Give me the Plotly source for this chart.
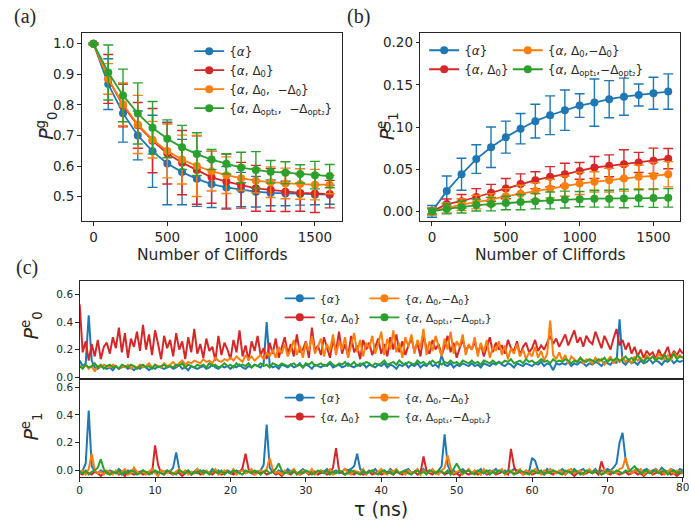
import plotly.graph_objects as go

W, H = 689, 529

# ---------------- data ----------------
cliffords = [0, 100, 200, 300, 400, 500, 600, 700, 800, 900, 1000, 1100, 1200, 1300, 1400, 1500, 1600]

# panel (a): P0^g
a_alpha = [1.0, 0.868, 0.773, 0.700, 0.648, 0.608, 0.580, 0.558, 0.541, 0.530, 0.523, 0.516, 0.512, 0.510, 0.508, 0.506, 0.506]
a_alpha_err = [0.003, 0.083, 0.095, 0.08, 0.118, 0.135, 0.107, 0.09, 0.077, 0.068, 0.056, 0.05, 0.042, 0.04, 0.036, 0.033, 0.031]
a_d0 = [1.0, 0.885, 0.798, 0.733, 0.683, 0.641, 0.611, 0.587, 0.563, 0.549, 0.537, 0.527, 0.522, 0.516, 0.512, 0.510, 0.508]
a_d0_err = [0.003, 0.08, 0.07, 0.075, 0.105, 0.1, 0.105, 0.112, 0.085, 0.09, 0.075, 0.075, 0.07, 0.065, 0.06, 0.062, 0.045]
a_d0m = [1.0, 0.885, 0.802, 0.736, 0.686, 0.649, 0.621, 0.600, 0.583, 0.570, 0.560, 0.552, 0.547, 0.543, 0.541, 0.539, 0.539]
a_d0m_err = [0.003, 0.05, 0.07, 0.095, 0.06, 0.088, 0.08, 0.1, 0.065, 0.06, 0.04, 0.04, 0.05, 0.05, 0.05, 0.05, 0.03]
a_opt = [1.0, 0.906, 0.831, 0.772, 0.725, 0.689, 0.661, 0.639, 0.621, 0.607, 0.595, 0.587, 0.581, 0.578, 0.574, 0.570, 0.567]
a_opt_err = [0.003, 0.09, 0.086, 0.1, 0.086, 0.062, 0.072, 0.07, 0.033, 0.033, 0.05, 0.06, 0.037, 0.036, 0.03, 0.045, 0.038]

# panel (b): P1^e
b_alpha = [0.0, 0.024, 0.044, 0.062, 0.076, 0.088, 0.098, 0.107, 0.114, 0.120, 0.1255, 0.129, 0.133, 0.136, 0.138, 0.140, 0.142]
b_alpha_err = [0.007, 0.018, 0.019, 0.017, 0.024, 0.019, 0.018, 0.02, 0.023, 0.024, 0.014, 0.028, 0.022, 0.022, 0.013, 0.019, 0.021]
b_d0 = [0.0, 0.0086, 0.012, 0.017, 0.022, 0.027, 0.0325, 0.037, 0.041, 0.044, 0.048, 0.052, 0.054, 0.056, 0.058, 0.060, 0.0625]
b_d0_err = [0.004, 0.006, 0.008, 0.01, 0.01, 0.012, 0.012, 0.01, 0.012, 0.013, 0.01, 0.013, 0.013, 0.017, 0.012, 0.015, 0.012]
b_d0m = [0.0, 0.004, 0.008, 0.011, 0.014, 0.018, 0.021, 0.024, 0.027, 0.030, 0.033, 0.035, 0.037, 0.039, 0.041, 0.042, 0.044]
b_d0m_err = [0.004, 0.006, 0.007, 0.008, 0.007, 0.009, 0.01, 0.01, 0.011, 0.012, 0.013, 0.012, 0.014, 0.015, 0.014, 0.016, 0.015]
b_opt = [0.0, 0.003, 0.005, 0.0075, 0.0086, 0.010, 0.011, 0.012, 0.013, 0.014, 0.0145, 0.015, 0.015, 0.0153, 0.0157, 0.0157, 0.016]
b_opt_err = [0.003, 0.006, 0.007, 0.007, 0.008, 0.008, 0.009, 0.009, 0.01, 0.01, 0.009, 0.01, 0.01, 0.011, 0.01, 0.011, 0.011]

# panel (c): time traces sampled every 0.4 ns from 0 to 80 ns
tau = [round(0.4 * i, 1) for i in range(201)]
tau_ticks = [0, 10, 20, 30, 40, 50, 60, 70, 80]

c0_alpha = [
    0.12, 0.08, 0.10, 0.45, 0.12, 0.07, 0.06, 0.08, 0.07, 0.06,
    0.07, 0.05, 0.08, 0.06, 0.07, 0.08, 0.06, 0.07, 0.05, 0.07,
    0.06, 0.08, 0.07, 0.05, 0.07, 0.06, 0.08, 0.07, 0.06, 0.07,
    0.08, 0.06, 0.07, 0.09, 0.06, 0.07, 0.05, 0.08, 0.07, 0.06,
    0.07, 0.08, 0.06, 0.07, 0.09, 0.07, 0.06, 0.08, 0.07, 0.08,
    0.06, 0.08, 0.07, 0.09, 0.07, 0.06, 0.08, 0.07, 0.09, 0.08,
    0.07, 0.10, 0.40, 0.09, 0.07, 0.08, 0.06, 0.09, 0.08, 0.07,
    0.09, 0.07, 0.08, 0.10, 0.07, 0.09, 0.08, 0.06, 0.09, 0.08,
    0.07, 0.09, 0.08, 0.10, 0.07, 0.08, 0.09, 0.07, 0.08, 0.10,
    0.08, 0.07, 0.09, 0.08, 0.10, 0.07, 0.09, 0.08, 0.07, 0.09,
    0.08, 0.10, 0.07, 0.09, 0.08, 0.06, 0.09, 0.08, 0.10, 0.07,
    0.09, 0.08, 0.10, 0.07, 0.09, 0.08, 0.11, 0.08, 0.09, 0.07,
    0.16, 0.09, 0.08, 0.10, 0.07, 0.09, 0.08, 0.10, 0.09, 0.08,
    0.10, 0.08, 0.09, 0.07, 0.10, 0.09, 0.08, 0.10, 0.09, 0.11,
    0.09, 0.08, 0.10, 0.09, 0.07, 0.10, 0.09, 0.08, 0.10, 0.09,
    0.08, 0.10, 0.09, 0.11, 0.08, 0.10, 0.09, 0.05, 0.10, 0.09,
    0.10, 0.09, 0.11, 0.08, 0.10, 0.09, 0.11, 0.10, 0.08, 0.10,
    0.09, 0.11, 0.10, 0.08, 0.11, 0.10, 0.09, 0.12, 0.10, 0.42,
    0.11, 0.09, 0.12, 0.10, 0.11, 0.09, 0.12, 0.10, 0.11, 0.13,
    0.10, 0.12, 0.11, 0.09, 0.12, 0.11, 0.13, 0.10, 0.12, 0.11,
    0.12]
c0_d0 = [
    0.53, 0.18, 0.26, 0.12, 0.24, 0.15, 0.27, 0.13, 0.22, 0.25,
    0.17, 0.29, 0.21, 0.36, 0.18, 0.32, 0.14, 0.28, 0.22, 0.33,
    0.19, 0.38, 0.20, 0.31, 0.16, 0.34, 0.24, 0.13, 0.30, 0.21,
    0.27, 0.15, 0.32, 0.20, 0.26, 0.13, 0.29, 0.18, 0.35, 0.17,
    0.24, 0.14, 0.28, 0.19, 0.22, 0.12, 0.30, 0.16, 0.25, 0.20,
    0.13, 0.27, 0.18, 0.34, 0.15, 0.23, 0.12, 0.26, 0.19, 0.30,
    0.16, 0.21, 0.13, 0.25, 0.17, 0.28, 0.14, 0.22, 0.29, 0.17,
    0.24, 0.15, 0.31, 0.18, 0.20, 0.26, 0.14, 0.36, 0.19, 0.23,
    0.16, 0.29, 0.21, 0.14, 0.27, 0.19, 0.33, 0.17, 0.24, 0.15,
    0.30, 0.18, 0.23, 0.13, 0.27, 0.20, 0.25, 0.16, 0.22, 0.28,
    0.17, 0.24, 0.15, 0.29, 0.20, 0.31, 0.18, 0.26, 0.16, 0.23,
    0.28, 0.19, 0.25, 0.15, 0.30, 0.21, 0.17, 0.27, 0.20, 0.24,
    0.16, 0.22, 0.30, 0.18, 0.25, 0.14, 0.21, 0.27, 0.19, 0.23,
    0.20, 0.26, 0.17, 0.24, 0.15, 0.22, 0.29, 0.18, 0.25, 0.20,
    0.23, 0.17, 0.27, 0.21, 0.19, 0.26, 0.16, 0.22, 0.25, 0.18,
    0.21, 0.27, 0.19, 0.23, 0.20, 0.25, 0.30, 0.24, 0.28, 0.22,
    0.26, 0.31, 0.23, 0.28, 0.34, 0.25, 0.29, 0.22, 0.30, 0.26,
    0.24, 0.33, 0.27, 0.21, 0.30, 0.25, 0.20, 0.28, 0.35, 0.23,
    0.27, 0.20, 0.25, 0.17, 0.22, 0.15, 0.20, 0.14, 0.19, 0.16,
    0.18, 0.13, 0.20, 0.15, 0.17, 0.22, 0.14, 0.19, 0.16, 0.20,
    0.17]
c0_d0m = [
    0.08, 0.07, 0.09, 0.06, 0.08, 0.04, 0.08, 0.07, 0.09, 0.08,
    0.07, 0.09, 0.08, 0.06, 0.08, 0.07, 0.09, 0.06, 0.08, 0.07,
    0.09, 0.07, 0.08, 0.10, 0.07, 0.09, 0.08, 0.07, 0.10, 0.08,
    0.09, 0.11, 0.08, 0.10, 0.12, 0.09, 0.11, 0.10, 0.12, 0.11,
    0.10, 0.13, 0.11, 0.12, 0.10, 0.14, 0.12, 0.11, 0.13, 0.12,
    0.14, 0.12, 0.15, 0.13, 0.11, 0.16, 0.13, 0.15, 0.12, 0.14,
    0.16, 0.13, 0.18, 0.15, 0.20, 0.14, 0.22, 0.17, 0.24, 0.15,
    0.20, 0.27, 0.16, 0.23, 0.14, 0.25, 0.19, 0.30, 0.17, 0.22,
    0.28, 0.15, 0.24, 0.19, 0.31, 0.16, 0.26, 0.20, 0.29, 0.14,
    0.23, 0.32, 0.18, 0.27, 0.15, 0.25, 0.21, 0.30, 0.17, 0.24,
    0.33, 0.16, 0.28, 0.20, 0.34, 0.18, 0.25, 0.14, 0.29, 0.22,
    0.31, 0.17, 0.27, 0.21, 0.35, 0.16, 0.26, 0.19, 0.30, 0.23,
    0.15, 0.28, 0.20, 0.33, 0.17, 0.26, 0.22, 0.31, 0.16, 0.24,
    0.20, 0.29, 0.15, 0.25, 0.18, 0.27, 0.14, 0.22, 0.19, 0.26,
    0.16, 0.23, 0.13, 0.21, 0.17, 0.24, 0.15, 0.20, 0.13, 0.18,
    0.15, 0.22, 0.14, 0.19, 0.12, 0.17, 0.41, 0.16, 0.13, 0.18,
    0.12, 0.16, 0.10, 0.15, 0.13, 0.11, 0.14, 0.10, 0.13, 0.12,
    0.10, 0.14, 0.11, 0.13, 0.09, 0.12, 0.15, 0.10, 0.13, 0.11,
    0.14, 0.11, 0.13, 0.10, 0.15, 0.12, 0.14, 0.11, 0.16, 0.13,
    0.15, 0.12, 0.17, 0.14, 0.13, 0.16, 0.12, 0.18, 0.15, 0.16,
    0.14]
c0_opt = [
    0.08, 0.06, 0.09, 0.07, 0.08, 0.10, 0.07, 0.09, 0.06, 0.08,
    0.09, 0.07, 0.08, 0.06, 0.09, 0.08, 0.07, 0.09, 0.08, 0.06,
    0.08, 0.09, 0.07, 0.08, 0.06, 0.09, 0.07, 0.08, 0.09, 0.07,
    0.08, 0.07, 0.09, 0.08, 0.10, 0.07, 0.09, 0.08, 0.07, 0.09,
    0.08, 0.09, 0.07, 0.10, 0.08, 0.09, 0.07, 0.08, 0.10, 0.08,
    0.09, 0.07, 0.10, 0.08, 0.09, 0.08, 0.10, 0.07, 0.09, 0.08,
    0.10, 0.08, 0.09, 0.07, 0.10, 0.09, 0.08, 0.10, 0.09, 0.08,
    0.09, 0.10, 0.08, 0.09, 0.07, 0.10, 0.09, 0.11, 0.08, 0.09,
    0.10, 0.08, 0.09, 0.11, 0.09, 0.08, 0.10, 0.09, 0.11, 0.08,
    0.09, 0.11, 0.08, 0.10, 0.09, 0.11, 0.10, 0.08, 0.10, 0.09,
    0.10, 0.12, 0.09, 0.10, 0.11, 0.09, 0.12, 0.10, 0.09, 0.11,
    0.10, 0.09, 0.12, 0.10, 0.11, 0.09, 0.10, 0.12, 0.10, 0.11,
    0.09, 0.11, 0.10, 0.12, 0.10, 0.11, 0.09, 0.12, 0.11, 0.10,
    0.12, 0.10, 0.11, 0.09, 0.12, 0.11, 0.10, 0.12, 0.10, 0.11,
    0.10, 0.12, 0.11, 0.13, 0.10, 0.11, 0.12, 0.10, 0.13, 0.11,
    0.12, 0.10, 0.11, 0.13, 0.11, 0.12, 0.10, 0.13, 0.11, 0.12,
    0.11, 0.13, 0.12, 0.10, 0.12, 0.11, 0.14, 0.12, 0.11, 0.13,
    0.12, 0.11, 0.13, 0.12, 0.14, 0.11, 0.13, 0.12, 0.14, 0.12,
    0.13, 0.15, 0.12, 0.14, 0.12, 0.16, 0.13, 0.11, 0.14, 0.13,
    0.15, 0.12, 0.14, 0.13, 0.16, 0.12, 0.14, 0.17, 0.13, 0.15,
    0.14]

c1_alpha = [
    -0.01, 0.00, 0.05, 0.43, 0.03, -0.01, -0.02, 0.00, -0.01, -0.02,
    0.00, -0.01, -0.02, 0.01, -0.01, -0.02, 0.00, -0.01, 0.01, -0.02,
    -0.01, 0.00, -0.02, -0.01, 0.01, -0.01, -0.02, 0.00, -0.01, 0.00,
    -0.01, 0.02, 0.13, 0.01, -0.02, -0.01, 0.00, -0.02, -0.01, 0.01,
    -0.02, 0.00, -0.01, -0.02, 0.01, -0.01, 0.00, -0.02, -0.01, 0.00,
    -0.01, -0.02, 0.00, -0.01, 0.01, -0.02, -0.01, 0.00, -0.02, -0.01,
    0.00, 0.04, 0.33, 0.02, -0.01, -0.02, 0.00, -0.01, -0.02, 0.01,
    -0.01, 0.00, -0.02, -0.01, 0.01, -0.01, -0.02, 0.00, -0.01, -0.02,
    0.00, -0.01, 0.01, -0.02, -0.01, 0.00, -0.02, -0.01, 0.01, 0.00,
    0.01, 0.03, 0.12, 0.01, -0.01, -0.02, 0.00, -0.01, 0.01, -0.02,
    -0.01, 0.00, -0.02, 0.01, -0.01, 0.00, -0.02, -0.01, 0.00, 0.01,
    -0.02, -0.01, 0.00, -0.01, 0.01, -0.02, 0.00, -0.01, -0.02, 0.00,
    0.03, 0.26, 0.04, -0.01, 0.00, -0.02, -0.01, 0.01, -0.01, 0.00,
    -0.02, 0.00, -0.01, 0.01, -0.02, -0.01, 0.00, -0.01, 0.01, -0.02,
    -0.01, 0.00, -0.02, -0.01, 0.01, 0.00, -0.01, -0.02, 0.00, -0.01,
    0.09, 0.07, 0.00, -0.01, -0.02, 0.01, -0.01, 0.00, -0.02, -0.01,
    0.01, -0.01, 0.00, -0.02, 0.01, -0.01, 0.00, 0.01, -0.02, 0.00,
    -0.01, 0.01, -0.02, 0.00, -0.01, 0.01, 0.00, 0.02, 0.05, 0.20,
    0.27, 0.08, 0.01, -0.01, 0.00, 0.01, -0.02, 0.00, 0.01, -0.01,
    0.00, 0.01, -0.01, 0.02, 0.00, -0.01, 0.01, 0.00, -0.02, 0.01,
    0.00]
c1_d0 = [
    -0.02, -0.03, -0.01, -0.02, -0.03, -0.01, -0.02, -0.04, -0.02, -0.01,
    -0.03, -0.02, -0.01, -0.03, -0.02, -0.04, -0.01, -0.02, -0.03, -0.02,
    -0.01, -0.03, -0.02, -0.01, -0.02, 0.18, 0.04, -0.02, -0.03, -0.01,
    -0.02, -0.03, -0.01, -0.02, -0.04, -0.02, -0.01, -0.03, -0.02, -0.01,
    -0.03, -0.02, -0.01, -0.02, -0.03, -0.01, -0.02, -0.03, -0.02, -0.01,
    -0.02, -0.03, -0.01, -0.02, 0.02, 0.12, 0.01, -0.02, -0.03, -0.01,
    -0.02, -0.01, -0.03, -0.02, -0.01, -0.03, -0.02, -0.04, -0.01, -0.02,
    -0.03, -0.01, -0.02, -0.03, -0.02, -0.01, -0.03, -0.02, -0.01, -0.03,
    -0.02, -0.01, -0.03, -0.02, 0.02, 0.16, 0.00, -0.02, -0.03, -0.01,
    -0.02, -0.03, -0.01, -0.02, -0.03, -0.02, -0.01, -0.03, -0.02, -0.01,
    -0.03, -0.02, -0.01, -0.02, -0.03, -0.01, -0.02, -0.03, -0.01, -0.02,
    -0.02, -0.01, -0.03, -0.02, 0.10, 0.00, -0.02, -0.03, -0.01, -0.02,
    -0.01, -0.03, -0.02, -0.01, -0.03, -0.02, -0.04, -0.01, -0.02, -0.03,
    -0.02, -0.01, -0.03, -0.02, -0.01, -0.03, -0.02, -0.01, -0.03, -0.02,
    -0.01, -0.02, -0.03, 0.155, 0.03, -0.02, -0.01, -0.03, -0.02, -0.01,
    -0.03, -0.02, -0.01, -0.02, -0.03, -0.01, -0.02, -0.03, -0.01, -0.02,
    -0.02, -0.03, -0.01, -0.02, -0.04, -0.02, -0.01, -0.03, -0.02, -0.01,
    -0.02, -0.01, -0.03, 0.065, 0.00, -0.02, -0.03, -0.01, -0.02, -0.03,
    -0.02, -0.01, -0.03, -0.02, -0.01, -0.03, -0.02, -0.04, -0.02, -0.01,
    -0.03, -0.02, -0.01, -0.03, -0.02, -0.01, -0.03, -0.02, -0.04, -0.02,
    -0.02]
c1_d0m = [
    -0.02, 0.00, -0.03, 0.01, 0.12, 0.00, -0.02, -0.01, -0.03, 0.00,
    -0.01, -0.03, 0.00, -0.02, -0.01, 0.01, -0.03, -0.02, 0.02, -0.01,
    -0.02, 0.00, -0.03, -0.01, 0.01, -0.02, -0.04, 0.00, -0.01, -0.02,
    0.00, -0.03, -0.01, 0.01, -0.02, 0.00, -0.03, -0.01, -0.02, 0.01,
    -0.01, -0.03, 0.00, -0.02, -0.01, 0.01, -0.03, -0.02, 0.00, -0.01,
    -0.02, 0.01, -0.03, -0.01, 0.00, -0.02, -0.01, 0.01, -0.03, -0.02,
    0.00, -0.01, 0.01, 0.09, 0.01, -0.02, -0.01, -0.03, 0.00, -0.02,
    -0.01, 0.01, -0.02, -0.03, 0.00, -0.01, -0.02, 0.01, -0.03, -0.01,
    0.00, -0.02, -0.01, 0.01, -0.03, -0.02, 0.00, -0.01, 0.01, -0.02,
    -0.03, 0.00, -0.01, -0.02, 0.01, -0.03, -0.01, 0.00, -0.02, -0.01,
    0.01, -0.02, -0.03, 0.00, -0.01, 0.01, -0.02, -0.01, -0.03, 0.00,
    -0.02, -0.01, 0.01, -0.03, 0.00, -0.02, -0.01, 0.01, -0.02, -0.03,
    0.00, 0.02, 0.11, 0.02, -0.02, -0.01, 0.00, -0.03, -0.01, 0.01,
    -0.02, 0.00, -0.01, -0.03, 0.01, -0.02, -0.01, 0.00, -0.02, -0.01,
    0.01, -0.03, -0.01, 0.00, -0.02, -0.01, 0.01, -0.03, 0.00, -0.01,
    -0.02, 0.01, -0.01, -0.03, 0.00, -0.02, 0.01, -0.01, -0.02, 0.00,
    -0.01, -0.03, 0.00, 0.01, -0.02, -0.01, 0.00, -0.03, -0.01, 0.01,
    -0.02, 0.00, -0.01, -0.03, 0.01, -0.02, 0.00, -0.01, -0.02, 0.01,
    0.02, 0.09, 0.01, -0.02, 0.00, -0.01, 0.01, -0.03, -0.01, 0.00,
    -0.02, 0.01, -0.01, 0.00, -0.03, -0.01, 0.01, -0.02, 0.00, -0.01,
    -0.02]
c1_opt = [
    -0.01, -0.02, 0.00, -0.03, -0.01, 0.00, 0.02, 0.08, 0.01, -0.02,
    -0.03, -0.01, -0.02, 0.00, -0.03, -0.01, -0.02, 0.00, -0.01, -0.03,
    -0.02, 0.00, -0.01, -0.03, -0.02, 0.00, -0.01, -0.02, -0.03, 0.00,
    -0.01, -0.02, -0.03, 0.00, -0.01, -0.02, 0.00, -0.03, -0.01, -0.02,
    0.00, -0.02, -0.01, -0.03, 0.00, -0.01, -0.02, 0.00, -0.03, -0.01,
    -0.02, 0.00, -0.01, -0.02, -0.03, 0.00, -0.01, -0.02, 0.00, -0.01,
    -0.03, -0.01, 0.00, -0.02, -0.01, 0.01, 0.05, 0.00, -0.02, -0.01,
    -0.02, 0.00, -0.03, -0.01, -0.02, 0.00, -0.01, -0.03, -0.02, 0.00,
    -0.01, -0.02, 0.00, -0.03, -0.01, -0.02, 0.00, -0.01, -0.03, -0.02,
    0.00, -0.01, -0.02, -0.03, 0.00, -0.02, -0.01, 0.00, -0.02, -0.03,
    -0.01, 0.00, -0.02, -0.01, -0.03, 0.00, -0.02, -0.01, 0.00, -0.02,
    -0.03, -0.01, 0.00, -0.02, -0.01, -0.03, 0.00, -0.01, -0.02, 0.00,
    -0.01, -0.02, 0.00, -0.03, 0.01, 0.05, 0.01, -0.02, -0.01, 0.00,
    -0.02, -0.03, 0.00, -0.01, -0.02, 0.00, -0.03, -0.01, -0.02, 0.00,
    -0.01, -0.02, 0.00, -0.01, -0.03, -0.02, 0.00, -0.01, -0.02, -0.03,
    0.00, -0.01, -0.02, 0.00, -0.03, -0.01, -0.02, 0.00, -0.01, -0.02,
    -0.03, 0.00, -0.01, -0.02, 0.00, -0.01, -0.03, -0.02, 0.00, -0.01,
    -0.02, 0.00, -0.01, -0.03, -0.02, 0.00, -0.01, -0.02, 0.00, -0.01,
    -0.02, 0.00, -0.01, 0.01, 0.03, 0.00, -0.02, -0.01, 0.00, -0.02,
    -0.01, 0.00, -0.02, -0.01, 0.00, -0.03, -0.01, 0.00, -0.02, -0.01,
    -0.01]

# legend labels
lab_alpha = "{<i>α</i>}"
lab_d0 = "{<i>α</i>, Δ<sub>0</sub>}"
lab_d0m_a = "{<i>α</i>, Δ<sub>0</sub>,  −Δ<sub>0</sub>}"
lab_d0m = "{<i>α</i>, Δ<sub>0</sub>,−Δ<sub>0</sub>}"
lab_opt_a = "{<i>α</i>, Δ<sub>opt₁</sub>,  −Δ<sub>opt₂</sub>}"
lab_opt = "{<i>α</i>, Δ<sub>opt₁</sub>,−Δ<sub>opt₂</sub>}"

BLUE, ORANGE, GREEN, RED = "#1f77b4", "#ff7f0e", "#2ca02c", "#d62728"
FONT = "DejaVu Sans"
INK = "#262626"


def px_x(p):
    return p / W


def px_y(p):
    return 1 - p / H


fig = go.Figure()


def err_trace(x, y, err, col, name, xa, ya, leg):
    return go.Scatter(
        x=x, y=y, name=name, mode="lines+markers",
        xaxis=xa, yaxis=ya, legend=leg,
        line=dict(color=col, width=1.8),
        marker=dict(color=col, size=8),
        error_y=dict(type="data", array=err, color=col, thickness=1.4, width=5),
    )


# panel (a)
for y, e, c, n in [(a_alpha, a_alpha_err, BLUE, lab_alpha),
                   (a_d0, a_d0_err, RED, lab_d0),
                   (a_d0m, a_d0m_err, ORANGE, lab_d0m_a),
                   (a_opt, a_opt_err, GREEN, lab_opt_a)]:
    fig.add_trace(err_trace(cliffords, y, e, c, n, "x", "y", "legend"))

# panel (b)
for y, e, c, n, lg in [(b_alpha, b_alpha_err, BLUE, lab_alpha, "legend2"),
                       (b_d0, b_d0_err, RED, lab_d0, "legend2"),
                       (b_d0m, b_d0m_err, ORANGE, lab_d0m, "legend3"),
                       (b_opt, b_opt_err, GREEN, lab_opt, "legend3")]:
    fig.add_trace(err_trace(cliffords, y, e, c, n, "x2", "y2", lg))

# panel (c)
for ya, series, legs in [("y3", [c0_alpha, c0_d0, c0_d0m, c0_opt], ("legend4", "legend5")),
                         ("y4", [c1_alpha, c1_d0, c1_d0m, c1_opt], ("legend6", "legend7"))]:
    xa = "x3" if ya == "y3" else "x4"
    info = [(BLUE, lab_alpha, legs[0]), (RED, lab_d0, legs[0]),
            (ORANGE, lab_d0m, legs[1]), (GREEN, lab_opt, legs[1])]
    for vals, (c, n, lg) in zip(series, info):
        fig.add_trace(go.Scatter(x=tau, y=vals, mode="lines", xaxis=xa, yaxis=ya,
                                 line=dict(color=c, width=2), showlegend=False))
    # legend proxies (symbol only, no data)
    for c, n, lg in info:
        fig.add_trace(go.Scatter(x=[None], y=[None], name=n, mode="lines+markers",
                                 xaxis=xa, yaxis=ya, legend=lg,
                                 line=dict(color=c, width=1.8),
                                 marker=dict(color=c, size=8),
                                 error_y=dict(type="data", array=[0], color=c, thickness=1.4, width=5)))

axis_common = dict(
    showline=True, mirror=True, linecolor=INK, linewidth=1,
    ticks="outside", ticklen=3.5, tickwidth=0.8, tickcolor=INK,
    showgrid=False, zeroline=False,
)

big_tick = dict(family=FONT, size=13.5, color=INK)
small_tick = dict(family=FONT, size=10.5, color=INK)

clf_ticks = [0, 500, 1000, 1500]

fig.update_layout(
    width=W, height=H,
    margin=dict(l=0, r=0, t=0, b=0),
    paper_bgcolor="white", plot_bgcolor="white",
    font=dict(family=FONT, color=INK),
    xaxis=dict(domain=[px_x(79), px_x(340)], range=[-80, 1680], anchor="y",
               tickvals=clf_ticks, tickfont=big_tick, **axis_common),
    yaxis=dict(domain=[px_y(223), px_y(33)], range=[0.419, 1.036], anchor="x",
               tickvals=[0.5, 0.6, 0.7, 0.8, 0.9, 1.0], tickformat=".1f",
               tickfont=big_tick, **axis_common),
    xaxis2=dict(domain=[px_x(419), px_x(680)], range=[-80, 1680], anchor="y2",
                tickvals=clf_ticks, tickfont=big_tick, **axis_common),
    yaxis2=dict(domain=[px_y(223), px_y(33)], range=[-0.0118, 0.2118], anchor="x2",
                tickvals=[0, 0.05, 0.1, 0.15, 0.2], tickformat=".2f",
                tickfont=big_tick, **axis_common),
    xaxis3=dict(domain=[px_x(77), px_x(683)], range=[0, 80.02], anchor="y3",
                showticklabels=False, matches="x4",
                **{**axis_common, "ticks": ""}),
    yaxis3=dict(domain=[px_y(382), px_y(283)], range=[-0.015, 0.70], anchor="x3",
                tickvals=[0, 0.2, 0.4, 0.6], tickformat=".1f",
                tickfont=small_tick, **axis_common),
    xaxis4=dict(domain=[px_x(77), px_x(683)], range=[0, 80.02], anchor="y4",
                tickvals=tau_ticks,
                tickfont=small_tick, **axis_common),
    yaxis4=dict(domain=[px_y(481), px_y(382)], range=[-0.05, 0.657], anchor="x4",
                tickvals=[0, 0.2, 0.4, 0.6], tickformat=".1f",
                tickfont=small_tick, **axis_common),
)

leg_common = dict(bgcolor="rgba(0,0,0,0)", borderwidth=0, xanchor="left", yanchor="top",
                  tracegroupgap=0, itemwidth=30, orientation="v")
fig.update_layout(
    legend=dict(x=px_x(187), y=px_y(37), font=dict(family=FONT, size=12, color=INK), **leg_common),
    legend2=dict(x=px_x(423), y=px_y(36), font=dict(family=FONT, size=12, color=INK), **leg_common),
    legend3=dict(x=px_x(507), y=px_y(36), font=dict(family=FONT, size=12, color=INK), **leg_common),
    legend4=dict(x=px_x(278), y=px_y(286), font=dict(family=FONT, size=11, color=INK), **leg_common),
    legend5=dict(x=px_x(363), y=px_y(286), font=dict(family=FONT, size=11, color=INK), **leg_common),
    legend6=dict(x=px_x(278), y=px_y(386), font=dict(family=FONT, size=11, color=INK), **leg_common),
    legend7=dict(x=px_x(363), y=px_y(386), font=dict(family=FONT, size=11, color=INK), **leg_common),
)

annos = [
    # panel labels
    dict(text="(a)", x=px_x(22), y=px_y(17), font=dict(family="Liberation Serif", size=20, color=INK)),
    dict(text="(b)", x=px_x(357), y=px_y(17), font=dict(family="Liberation Serif", size=20, color=INK)),
    dict(text="(c)", x=px_x(24), y=px_y(270), font=dict(family="Liberation Serif", size=20, color=INK)),
    # x titles
    dict(text="Number of Cliffords", x=px_x(210), y=px_y(257), font=dict(family=FONT, size=15.5, color=INK)),
    dict(text="Number of Cliffords", x=px_x(550), y=px_y(257), font=dict(family=FONT, size=15.5, color=INK)),
    dict(text="τ (ns)", x=px_x(380), y=px_y(513), font=dict(family=FONT, size=19, color=INK)),
    # y titles
    dict(text="<i>P</i><sup>g</sup><sub>0</sub>", x=px_x(43), y=px_y(127), textangle=-90,
         font=dict(family=FONT, size=19, color=INK)),
    dict(text="<i>P</i><sup>e</sup><sub>1</sub>", x=px_x(386), y=px_y(127), textangle=-90,
         font=dict(family=FONT, size=19, color=INK)),
    dict(text="<i>P</i><sup>e</sup><sub>0</sub>", x=px_x(29), y=px_y(328), textangle=-90,
         font=dict(family=FONT, size=19, color=INK)),
    dict(text="<i>P</i><sup>e</sup><sub>1</sub>", x=px_x(29), y=px_y(430), textangle=-90,
         font=dict(family=FONT, size=19, color=INK)),
]
for a in annos:
    a.update(xref="paper", yref="paper", showarrow=False, xanchor="center", yanchor="middle")
# last tau tick label sits on the page edge; plotly hides it, so draw it at the x=80 tick
annos.append(dict(text=str(tau_ticks[-1]), x=tau_ticks[-1], xref="x4", y=px_y(491), yref="paper",
                  showarrow=False, xanchor="center", yanchor="middle",
                  font=dict(family=FONT, size=10.5, color=INK)))
fig.update_layout(annotations=annos)

fig.write_html(
    "out.html", config={"displayModeBar": False},
    post_script="document.body.style.margin='0';",
)
